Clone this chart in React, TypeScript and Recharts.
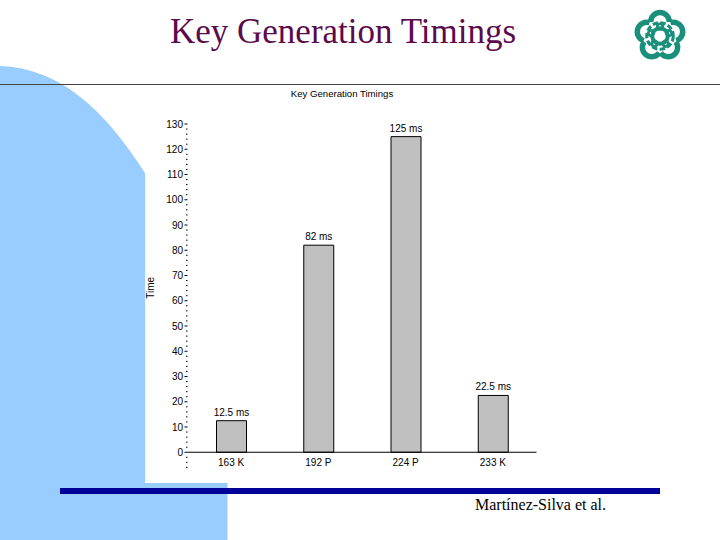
import React from "react";
import { BarChart, Bar, XAxis, YAxis, LabelList, ReferenceLine } from "recharts";

const categories = ["163 K", "192 P", "224 P", "233 K"];
const timings = [12.5, 82, 125, 22.5];
const barLabels = ["12.5 ms", "82 ms", "125 ms", "22.5 ms"];
const yTicks = [-6, -4, -2, 0, 2, 4, 6, 8, 10, 12, 14, 16, 18, 20, 22, 24, 26, 28, 30, 32, 34, 36, 38, 40, 42, 44, 46, 48, 50, 52, 54, 56, 58, 60, 62, 64, 66, 68, 70, 72, 74, 76, 78, 80, 82, 84, 86, 88, 90, 92, 94, 96, 98, 100, 102, 104, 106, 108, 110, 112, 114, 116, 118, 120, 122, 124, 126, 128, 130];
const petals = [0, 72, 144, 216, 288];

const data = categories.map((name, i) => ({ name, time: timings[i], label: barLabels[i] }));
const SANS = "'Liberation Sans', Arial, sans-serif";
const SERIF = "'Liberation Serif', 'Times New Roman', serif";

const YTick = (props: any) => {
  const { x, y, payload } = props;
  const v = payload.value;
  const right = x + 8;
  if (v >= 0 && v % 10 === 0) {
    return (
      <g>
        <line x1={right - 3} x2={right} y1={y} y2={y} stroke="#000" strokeWidth={1} />
        <text x={right - 4.5} y={y + 3.5} textAnchor="end" fontSize={10} fontFamily={SANS} fill="#000">{v}</text>
      </g>
    );
  }
  return <line x1={right - 1.5} x2={right} y1={y} y2={y} stroke="#000" strokeWidth={1} />;
};

const XTick = (props: any) => {
  const { x, y, payload } = props;
  return <text x={x} y={y - 9} textAnchor="middle" fontSize={10} fontFamily={SANS} fill="#000">{payload.value}</text>;
};

const BarText = (props: any) => {
  const { x, y, width, value } = props;
  return <text x={x + width / 2} y={y - 5} textAnchor="middle" fontSize={10} fontFamily={SANS} fill="#000">{value}</text>;
};

const Backdrop = () => (
  <svg width={720} height={540} style={{ position: "absolute", left: 0, top: 0 }}>
    <path d="M0,66 C60,68 105,110 145,173 L145,483 L227.5,483 L227.5,540 L0,540 Z" fill="#99ccff" />
    <rect x={0} y={84} width={720} height={1} fill="#444" />
    <rect x={60} y={488} width={600} height={6} fill="#000099" />
    <text x={170} y={43} fontFamily={SERIF} fontSize={35} fill="#5c0a4e">Key Generation Timings</text>
    <text x={475} y={510} fontFamily={SERIF} fontSize={16} fill="#000">Martínez-Silva et al.</text>
    <text x={342} y={97} textAnchor="middle" fontFamily={SANS} fontSize={9.6} fill="#000">Key Generation Timings</text>
    <g transform="translate(660,36) scale(0.78)" fill="none" stroke="#1a8f7a">
      {petals.map((a) => (
        <g key={a} transform={`rotate(${a})`}>
          <path d="M-12,-18 A 9 9 0 0 1 12,-18" strokeWidth={7} />
          <circle cx={0} cy={-12} r={3.5} strokeWidth={3.5} />
        </g>
      ))}
      <circle r={17} strokeWidth={4} strokeDasharray="7 3" />
      <circle r={10} strokeWidth={5} />
    </g>
  </svg>
);

export default function App() {
  return (
    <div style={{ position: "absolute", left: 0, top: 0, width: 720, height: 540, overflow: "hidden", background: "#fff" }}>
      <Backdrop />
      <div style={{ position: "absolute", left: 0, top: 0 }}>
        <BarChart
          width={720}
          height={540}
          data={data}
          margin={{ top: 124, right: 183.5, bottom: 52.6, left: 137.5 }}
          barCategoryGap={0}
        >
          <XAxis dataKey="name" height={20} axisLine={false} tickLine={false} tick={<XTick />} interval={0} />
          <YAxis
            type="number"
            domain={[-6, 130]}
            ticks={yTicks}
            width={50}
            interval={0}
            axisLine={false}
            tickLine={false}
            tick={<YTick />}
            label={{ value: "Time", angle: -90, position: "insideLeft", offset: 13, dy: 3, style: { fontFamily: SANS, fontSize: 10, fill: "#000" } }}
          />
          <ReferenceLine y={0} stroke="#000" strokeWidth={1.2} />
          <Bar dataKey="time" fill="#c0c0c0" stroke="#000" strokeWidth={1} barSize={30} isAnimationActive={false}>
            <LabelList dataKey="label" content={<BarText />} />
          </Bar>
        </BarChart>
      </div>
    </div>
  );
}
